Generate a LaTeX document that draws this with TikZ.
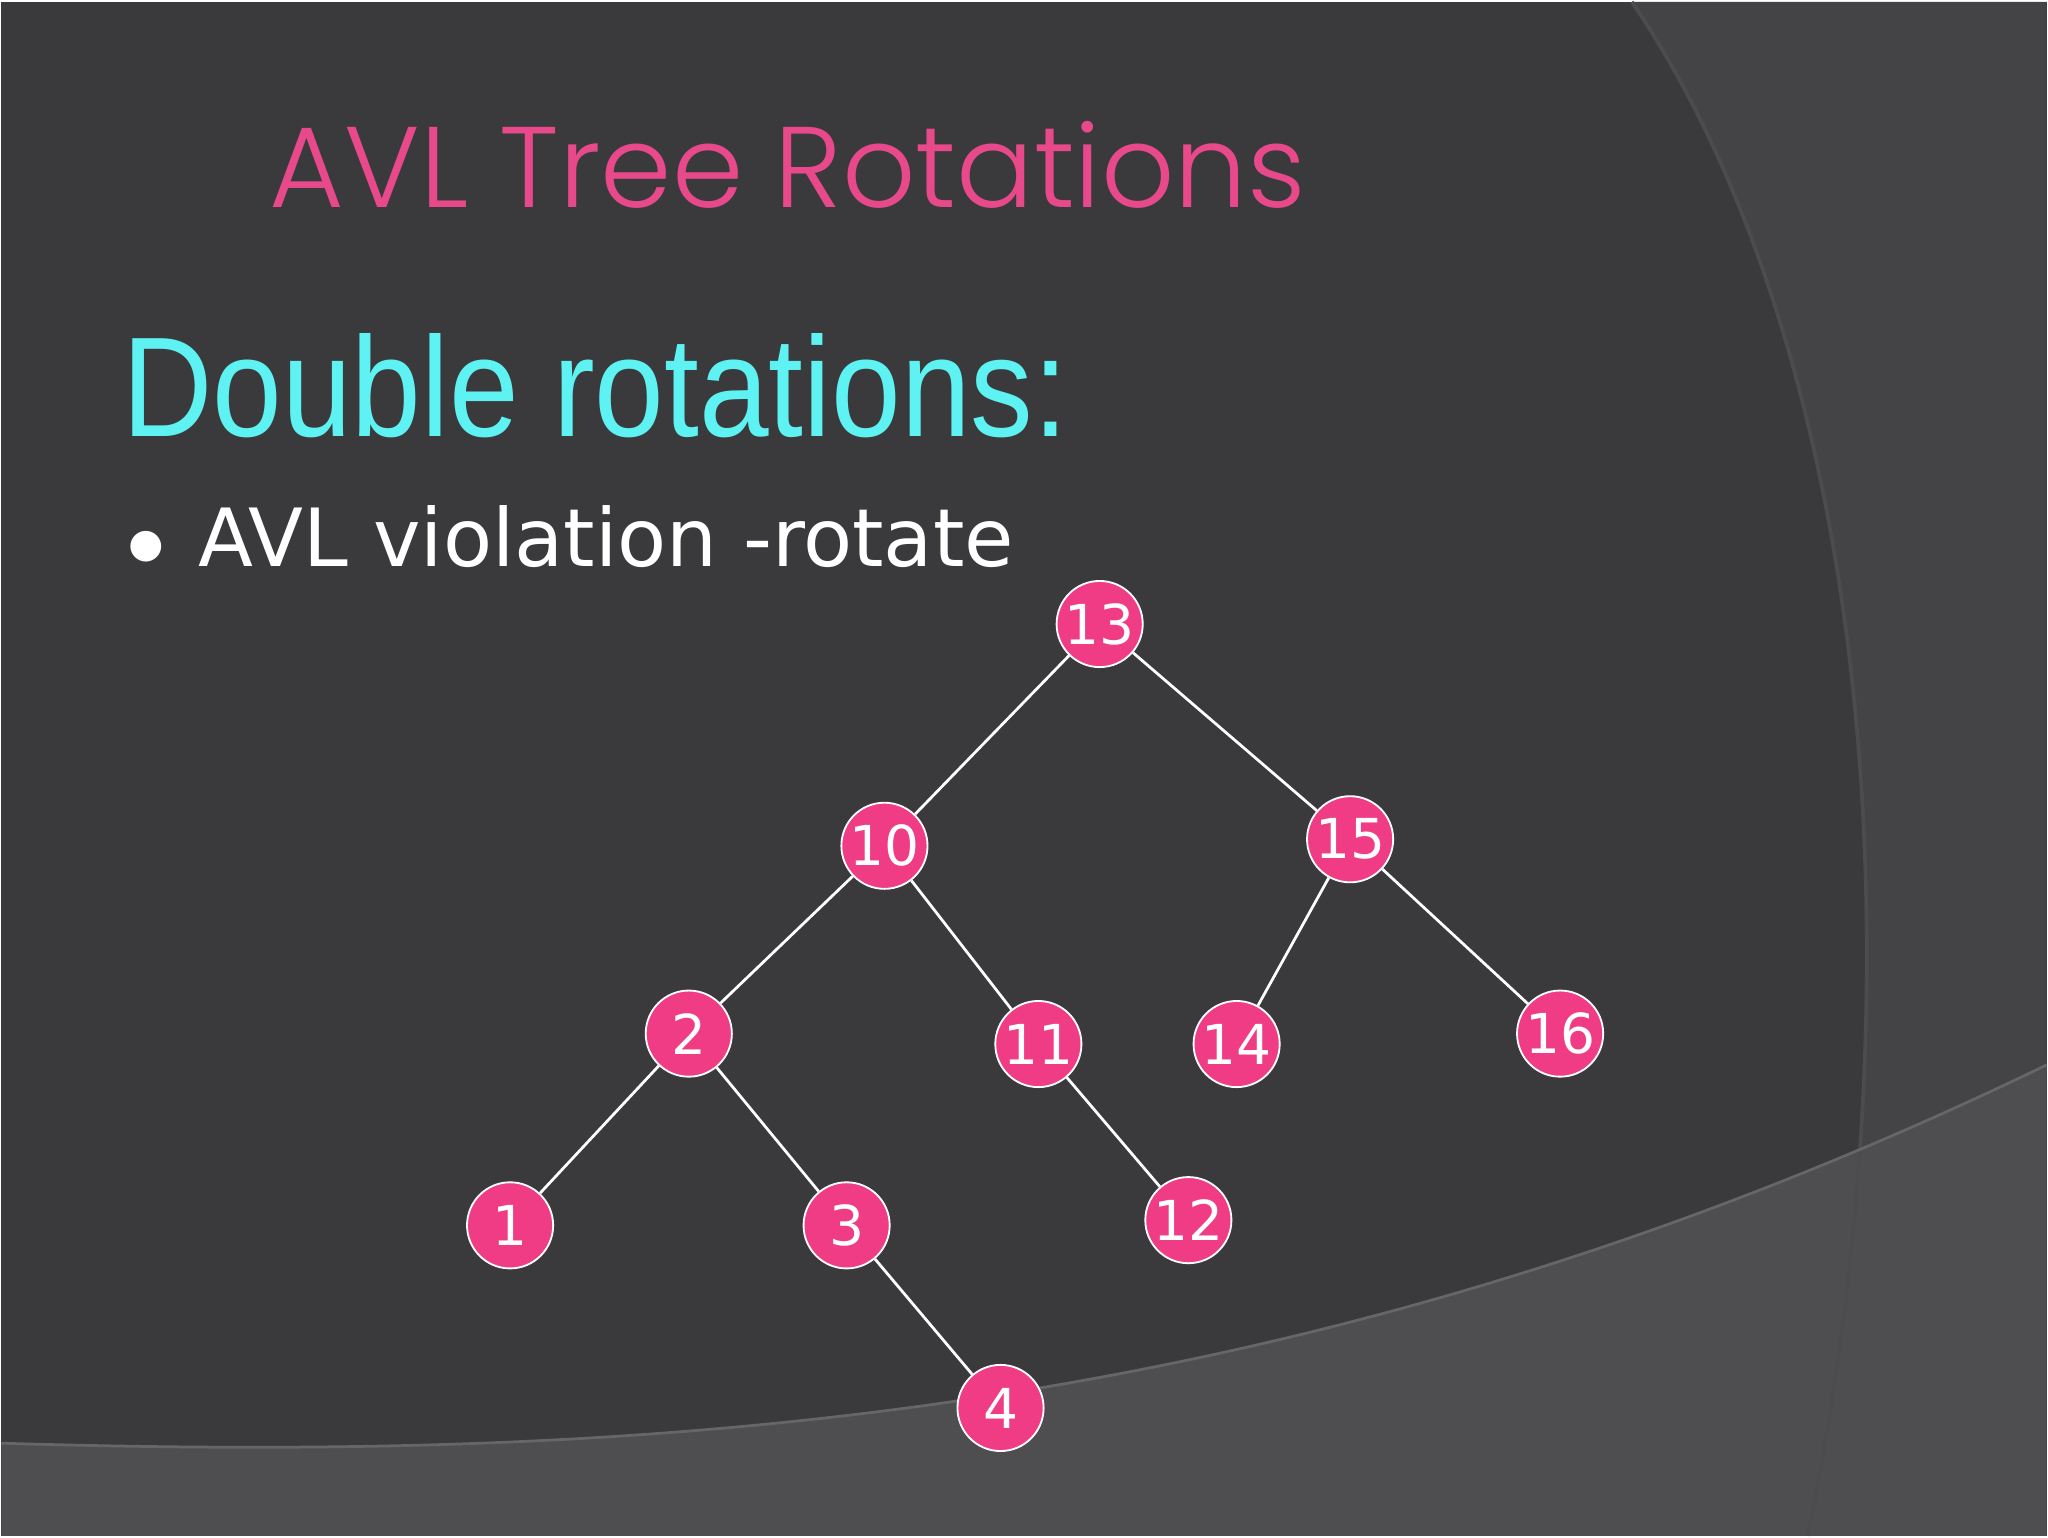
\documentclass[tikz,border=0pt]{standalone}
\usepackage{fontspec}
\setmainfont{DejaVu Sans}
\newfontfamily\titlefont{Poppins Light}
\newfontfamily\headfont{Liberation Sans}
\definecolor{bgdark}{HTML}{3A3A3C}
\definecolor{bglight}{HTML}{4E4E50}
\definecolor{bgmid}{HTML}{444446}
\definecolor{pinkc}{HTML}{F03C84}
\definecolor{titlec}{HTML}{E8498A}
\definecolor{cyanc}{HTML}{5EF2F2}
\tikzset{tn/.style={circle,draw=white,fill=pinkc,minimum size=0.66cm,inner sep=0pt,text=white,font=\fontsize{12}{12}\selectfont},
edge/.style={draw=white,line width=0.6pt}}
\begin{document}
\begin{tikzpicture}[x=0.01cm,y=-0.01cm]
\fill[bgdark] (0,0) rectangle (1568,1176);
\fill[bgmid] (1250,0) .. controls (1420,250) and (1480,700) .. (1385,1176) -- (1568,1176) -- (1568,0) -- cycle;
\fill[bglight] (0,1105) .. controls (500,1120) and (1000,1090) .. (1568,815) -- (1568,1176) -- (0,1176) -- cycle;
\draw[black!70,line width=0.8pt] (1250,0) .. controls (1420,250) and (1480,700) .. (1385,1176);
\draw[black!60,line width=0.6pt] (0,1105) .. controls (500,1120) and (1000,1090) .. (1568,815);
\node[anchor=base west,text=titlec,inner sep=0pt] (title) at (205,158) {\titlefont\fontsize{25}{25}\selectfont AVL Tree Rotations};
\node[anchor=base west,text=cyanc,inner sep=0pt,xscale=0.88] (head) at (92,333) {\headfont\fontsize{31}{31}\selectfont Double rotations:};
\node[anchor=base west,text=white,inner sep=0pt] (bul) at (95,433) {\fontsize{17.5}{17.5}\selectfont $\bullet$\hspace{0.25cm}AVL violation -rotate};
\node[tn] (n13) at (842,477) {13};
\node[tn] (n10) at (677,647) {10};
\node[tn] (n15) at (1034,642) {15};
\node[tn] (n2) at (527,791) {2};
\node[tn] (n11) at (795,799) {11};
\node[tn] (n14) at (947,799) {14};
\node[tn] (n16) at (1195,791) {16};
\node[tn] (n1) at (390,938) {1};
\node[tn] (n3) at (648,938) {3};
\node[tn] (n12) at (910,934) {12};
\node[tn] (n4) at (766,1078) {4};
\draw[edge] (n13)--(n10); \draw[edge] (n13)--(n15);
\draw[edge] (n10)--(n2); \draw[edge] (n10)--(n11);
\draw[edge] (n15)--(n14); \draw[edge] (n15)--(n16);
\draw[edge] (n2)--(n1); \draw[edge] (n2)--(n3);
\draw[edge] (n11)--(n12); \draw[edge] (n3)--(n4);
\end{tikzpicture}
\end{document}
